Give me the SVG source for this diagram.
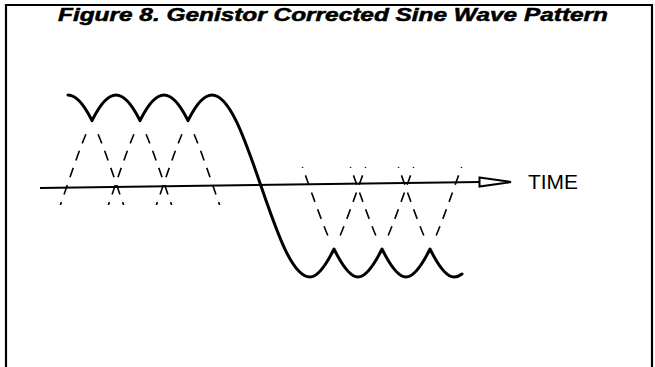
<svg xmlns="http://www.w3.org/2000/svg" width="655" height="367" viewBox="0 0 655 367">
<style>
.frame{fill:none;stroke:#000;stroke-width:2.2}
.title{font-family:"Liberation Sans",Arial,sans-serif;font-weight:bold;font-style:italic;font-size:17.5px;fill:#000;stroke:#000;stroke-width:0.5}
.label{font-family:"Liberation Sans",Arial,sans-serif;font-size:20px;fill:#000}
.axis{fill:none;stroke:#000;stroke-width:2}
.wave{fill:none;stroke:#000;stroke-width:3;stroke-linecap:round;stroke-linejoin:round}
.dash{fill:none;stroke:#000;stroke-width:1.6;stroke-dasharray:0 15 10 8 10 8 10 8 10 8 10 8}
</style>
<rect width="655" height="367" fill="#fff"/>
<g id="frame">
<path class="frame" d="M6,367 V5 H652 V367"/>
</g>
<g id="title">
<text class="title" x="333" y="21" text-anchor="middle" textLength="550" lengthAdjust="spacingAndGlyphs">Figure 8. Genistor Corrected Sine Wave Pattern</text>
</g>
<g id="axis">
<path class="axis" d="M40,188 L480,182"/>
<polygon class="axis" points="479.5,177.5 511,182 479.5,186.5"/>
<text class="label" x="528" y="189" textLength="50" lengthAdjust="spacingAndGlyphs">TIME</text>
</g>
<g id="dashed">
<path class="dash" d="M92,120.64 C102.53,142.02 113.07,174.95 123.6,205"/>
<path class="dash" d="M92,120.64 C81.47,142.02 70.93,174.95 60.4,205"/>
<path class="dash" d="M140,120.64 C150.53,142.02 161.07,174.95 171.6,205"/>
<path class="dash" d="M140,120.64 C129.47,142.02 118.93,174.95 108.4,205"/>
<path class="dash" d="M188,120.64 C198.53,142.02 209.07,174.95 219.6,205"/>
<path class="dash" d="M188,120.64 C177.47,142.02 166.93,174.95 156.4,205"/>
<path class="dash" d="M334,249 C344.5,228 355,196 365.6,167"/>
<path class="dash" d="M334,249 C323.5,228 313,196 302.4,167"/>
<path class="dash" d="M382,249 C392.5,228 403,196 413.6,167"/>
<path class="dash" d="M382,249 C371.5,228 361,196 350.4,167"/>
<path class="dash" d="M430,249 C440.5,228 451,196 461.6,167"/>
<path class="dash" d="M430,249 C419.5,228 409,196 398.4,167"/>
</g>
<g id="wave">
<path class="wave" d="M68,95 C76,95 84,104.4 92,120.64 C100,104.4 108,95 116,95 C124,95 132,104.4 140,120.64 C148,104.4 156,95 164,95 C172,95 180,104.4 188,120.64 C196,104.4 204,95 212,95 C220.17,95 228.33,104.8 236.5,121.65 C244.67,138.5 252.83,162.18 261,186 C269.17,209.82 277.33,233.5 285.5,250.35 C293.67,267.2 301.83,277 310,277 C318,277 326,265.2 334,249 C342,265.2 350,277 358,277 C366,277 374,265.2 382,249 C390,265.2 398,277 406,277 C414,277 422,265.2 430,249 C438,265.2 446,277 454,277 C456.67,277 459.33,276 462,274"/>
</g>
</svg>
